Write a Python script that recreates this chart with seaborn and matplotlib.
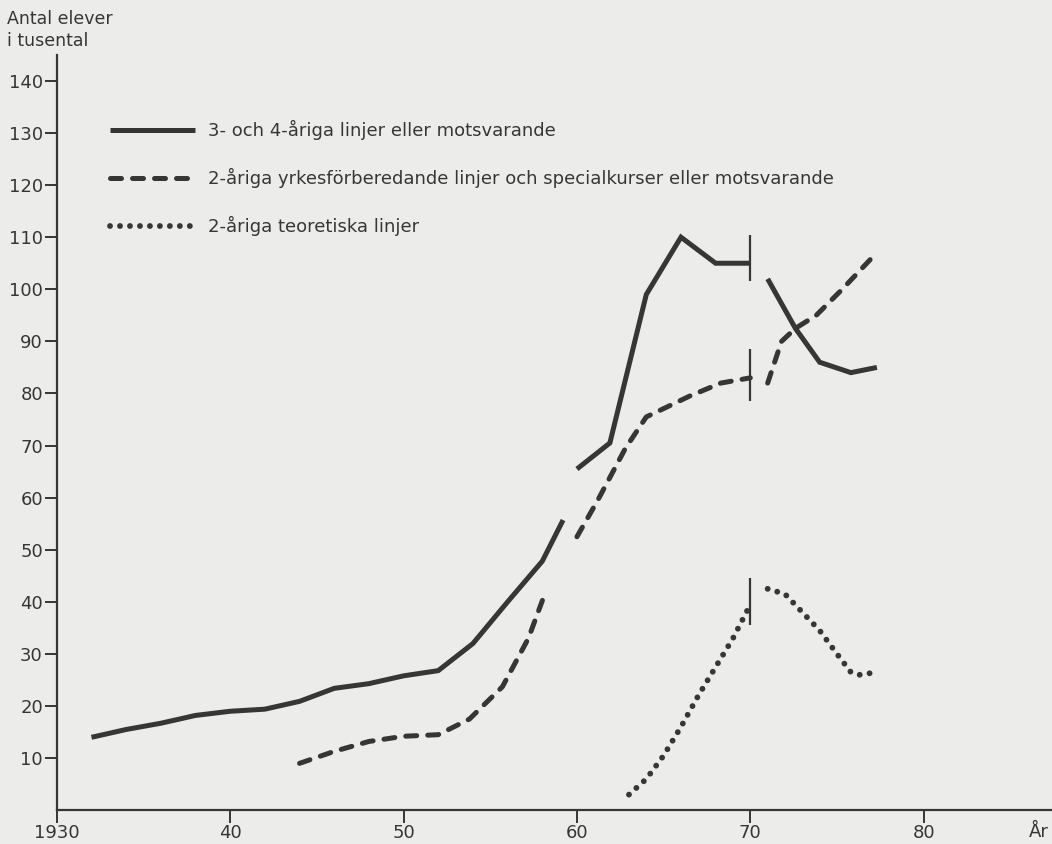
import seaborn as sns
import matplotlib.pyplot as plt
import pandas as pd
import numpy as np

# --- data (thousands of pupils) ---
# 3- och 4-åriga linjer, in three pieces (breaks at 1960 and 1970)
solid_years_a = [1932, 1934, 1936, 1938, 1940, 1942, 1944, 1946, 1948, 1950, 1952, 1954, 1956, 1958, 1959.2]
solid_vals_a = [14, 15.5, 16.7, 18.2, 19, 19.4, 20.9, 23.4, 24.3, 25.8, 26.8, 32, 40, 47.8, 55.7]
solid_years_b = [1960, 1961.9, 1964, 1966, 1968, 1970]
solid_vals_b = [65.5, 70.5, 99, 110, 105, 105]
solid_years_c = [1971, 1972.6, 1974, 1975.8, 1977.3]
solid_vals_c = [102, 92.5, 86, 84, 85]

# 2-åriga yrkesförberedande linjer
dash_years_a = [1944, 1946, 1948, 1950, 1952, 1953.8, 1955.7, 1957.2, 1958.2]
dash_vals_a = [9, 11.3, 13.2, 14.2, 14.5, 17.5, 23.7, 33, 42]
dash_years_b = [1960, 1961.2, 1962.8, 1964, 1966.5, 1968.3, 1970]
dash_vals_b = [52.5, 59.5, 69.5, 75.5, 79.5, 82, 83]
dash_years_c = [1971, 1971.8, 1972.6, 1973.8, 1975.3, 1977]
dash_vals_c = [82, 90, 92.5, 95, 100, 106]

# 2-åriga teoretiska linjer
dot_years_a = [1963, 1964, 1965, 1966, 1967, 1968, 1969, 1970]
dot_vals_a = [3, 6, 10.5, 16, 22, 27.5, 33, 39.5]
dot_years_c = [1971, 1972, 1973, 1974, 1975, 1975.8, 1976.3, 1976.9]
dot_vals_c = [42.5, 41.5, 38, 34.5, 30, 26.5, 26, 26.3]

# short vertical break marks at 1970 (low, high)
break_year = 1970
break_solid = [101.5, 110.5]
break_dash = [78.5, 88.5]
break_dot = [35.5, 44.5]

labels = ["3- och 4-åriga linjer eller motsvarande",
          "2-åriga yrkesförberedande linjer och specialkurser eller motsvarande",
          "2-åriga teoretiska linjer"]

x_ticks = [1930, 1940, 1950, 1960, 1970, 1980]
x_ticklabels = ["1930", "40", "50", "60", "70", "80"]
y_ticks = list(range(10, 150, 10))

bg = "#ecedea"
ink = "#363636"

sns.set_style("white")
plt.rcParams['font.family'] = ['DejaVu Sans']

fig = plt.figure(figsize=(10.52, 8.44), dpi=100, facecolor=bg)
ax = fig.add_axes([0.054, 0.040, 0.946, 0.895])
ax.set_facecolor(bg)

lw = 3.6
solid_kw = dict(color=ink, lw=lw, solid_capstyle='butt', solid_joinstyle='miter')
dash_kw = dict(color=ink, lw=lw, dashes=(2.2, 2.2), dash_capstyle='round')
dot_kw = dict(color=ink, lw=4.2, dashes=(0.01, 1.7), dash_capstyle='round')

for xs, ys in [(solid_years_a, solid_vals_a), (solid_years_b, solid_vals_b), (solid_years_c, solid_vals_c)]:
    sns.lineplot(x=xs, y=ys, ax=ax, **solid_kw)
for xs, ys in [(dash_years_a, dash_vals_a), (dash_years_b, dash_vals_b), (dash_years_c, dash_vals_c)]:
    sns.lineplot(x=xs, y=ys, ax=ax, **dash_kw)
for xs, ys in [(dot_years_a, dot_vals_a), (dot_years_c, dot_vals_c)]:
    sns.lineplot(x=xs, y=ys, ax=ax, **dot_kw)

for lo, hi in [break_solid, break_dash, break_dot]:
    ax.vlines(break_year, lo, hi, color=ink, lw=1.6)

# legend
h1 = plt.Line2D([], [], **solid_kw)
h2 = plt.Line2D([], [], **dash_kw)
h3 = plt.Line2D([], [], **dot_kw)
leg = ax.legend([h1, h2, h3], labels, loc='upper left', bbox_to_anchor=(0.037, 0.935),
                frameon=False, fontsize=13, handlelength=4.7, handletextpad=0.75,
                labelspacing=1.55)
for t in leg.get_texts():
    t.set_color(ink)

ax.set_xlim(1930, 1987.4)
ax.set_ylim(0, 145)
ax.set_xticks(x_ticks)
ax.set_xticklabels(x_ticklabels)
ax.set_yticks(y_ticks)
ax.tick_params(axis='both', direction='out', length=9, width=1.4, color=ink,
               labelsize=13, labelcolor=ink, pad=1, bottom=True, left=True)

sns.despine(ax=ax, top=True, right=True)
for s in ['left', 'bottom']:
    ax.spines[s].set_color(ink)
    ax.spines[s].set_linewidth(1.6)

fig.text(0.007, 0.988, "Antal elever\ni tusental", fontsize=12.5, color=ink,
         va='top', ha='left', linespacing=1.3)
fig.text(0.997, 0.003, "År", fontsize=13, color=ink, ha='right', va='bottom')

fig.savefig("out.png", dpi=100, facecolor=bg)
